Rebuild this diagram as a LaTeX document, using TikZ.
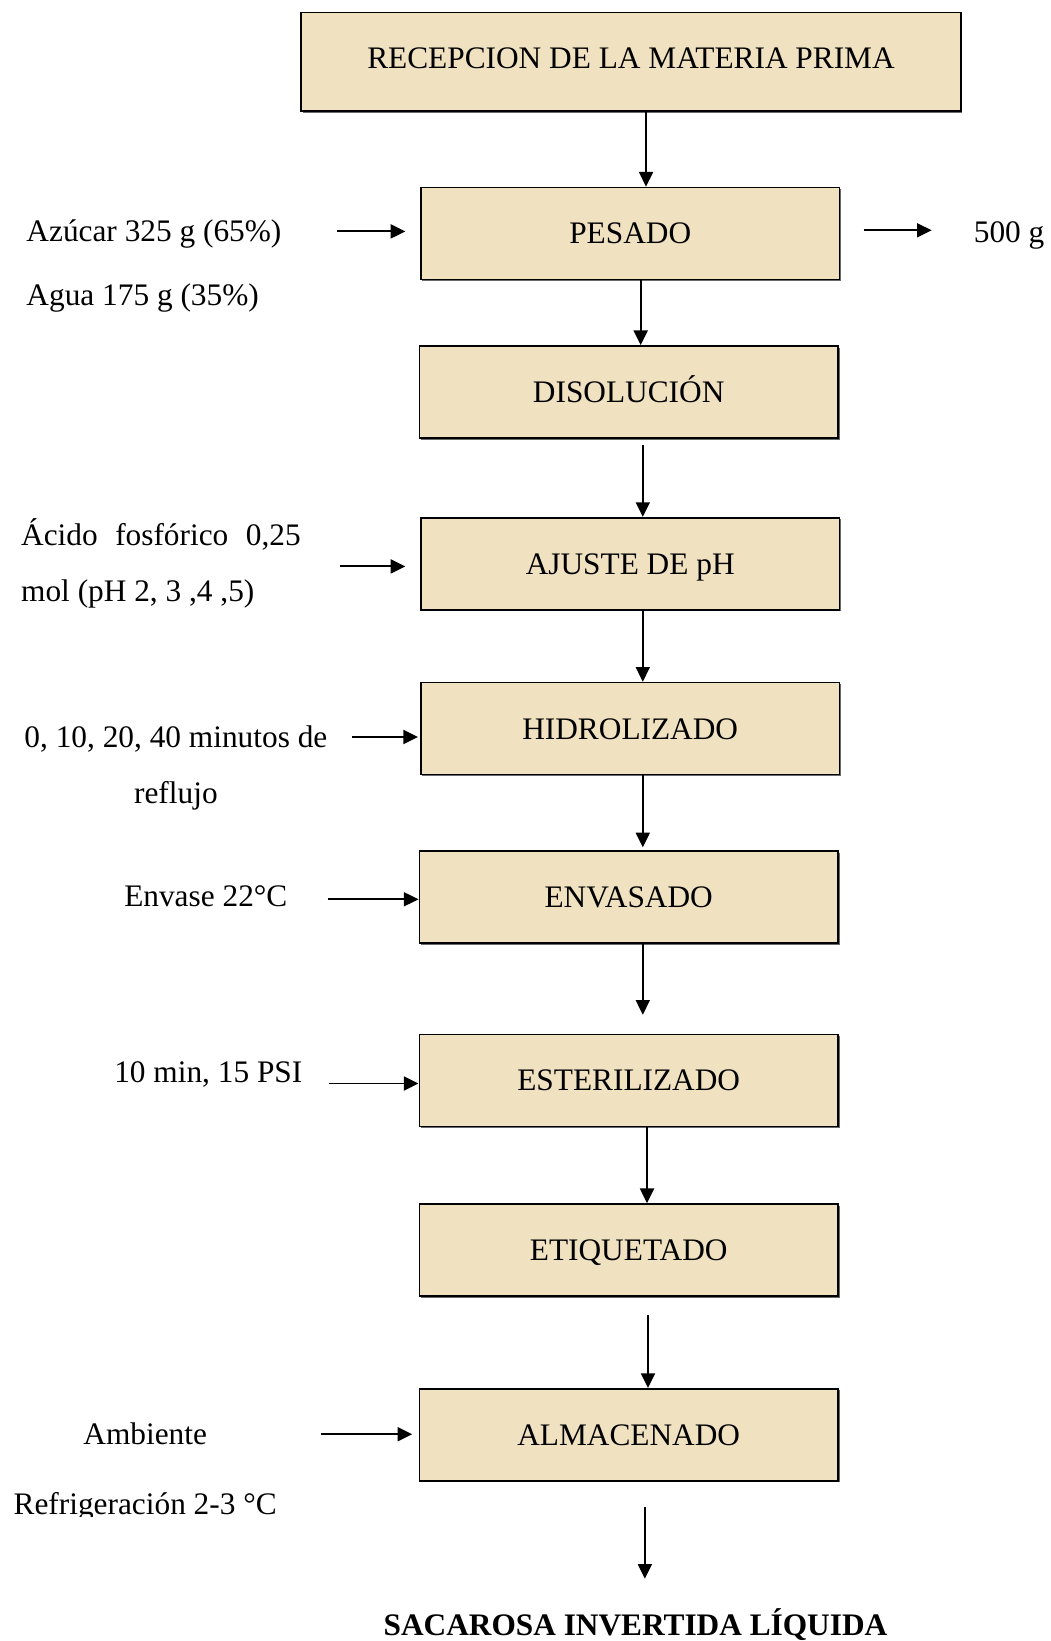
\documentclass[tikz,border=0pt]{standalone}
\usepackage{fontspec}
\setmainfont{Liberation Serif}
\usetikzlibrary{arrows.meta,shadows}
\definecolor{parch}{RGB}{240,226,193}
\definecolor{edgeshade}{RGB}{105,105,105}
\begin{document}
\begin{tikzpicture}[x=0.75pt,y=-0.75pt,
  every node/.style={font=\fontsize{23.5pt}{28pt}\selectfont, inner sep=0pt},
  stage/.style={draw=black, line width=1.3pt, fill=parch,
    minimum width=314pt, minimum height=69pt, text height=20pt, text depth=4.4pt,
    drop shadow={shadow xshift=1.2pt, shadow yshift=-1.2pt, fill=edgeshade, opacity=1}},
  flow/.style={line width=1.4pt, -{Triangle[length=11pt,width=10.5pt]}},
  lbl/.style={text height=20pt, text depth=4.4pt}
]
\useasboundingbox (0,0) rectangle (1050,1641);

% process stages
\node[stage, minimum width=494.6pt, minimum height=73.8pt, text height=16pt, text depth=6.4pt] (top) at (631,61.8) {RECEPCION DE LA MATERIA PRIMA};
\node[stage] (pes) at (630.2,233.5) {PESADO};
\node[stage] (dis) at (628.7,392) {DISOLUCIÓN};
\node[stage] (aju) at (630.2,563.8) {AJUSTE DE pH};
\node[stage] (hid) at (630.2,728.6) {HIDROLIZADO};
\node[stage] (env) at (628.7,897.2) {ENVASADO};
\node[stage] (est) at (628.7,1080.4) {ESTERILIZADO};
\node[stage] (eti) at (628.7,1250) {ETIQUETADO};
\node[stage] (alm) at (628.7,1434.8) {ALMACENADO};
\node[font=\fontsize{23.5pt}{28pt}\selectfont\bfseries, lbl] (prod) at (635.5,1624.8) {SACAROSA INVERTIDA LÍQUIDA};

% side inputs and output
\node[lbl, anchor=west] (azu) at (26.2,231.4) {Azúcar 325 g (65\%)};
\node[lbl, anchor=west] (agua) at (26.2,295.2) {Agua 175 g (35\%)};
\node[lbl, anchor=west] (out) at (973.6,232.4) {500 g};
\node[anchor=west, align=left, font=\fontsize{23.5pt}{41.6pt}\selectfont] (acid) at (20.9,563.5)
  {\makebox[209.7pt][s]{Ácido fosfórico 0,25}\\ mol (pH 2, 3 ,4 ,5)};
\node[align=center, font=\fontsize{23.5pt}{41.6pt}\selectfont] (reflux) at (175.9,767.8)
  {0, 10, 20, 40 minutos de\\ reflujo};
\node[lbl] (temp) at (205.8,896.1) {Envase 22°C};
\node[lbl] (psi) at (208.3,1072) {10 min, 15 PSI};
\begin{scope}
  \clip (0,1380) rectangle (400,1516);
  \node[align=center, font=\fontsize{23.5pt}{52.65pt}\selectfont] (store) at (145.2,1472.3)
    {Ambiente\\ Refrigeración 2-3 °C};
\end{scope}

% arrow positions
\coordinate (v1) at (646,0);
\coordinate (v2) at (640.7,0);
\coordinate (v3) at (642.8,0);
\coordinate (v4) at (647,0);
\coordinate (v5) at (648,0);
\coordinate (v6) at (644.9,0);
\coordinate (sAzu) at (337,231.4);
\coordinate (sOut) at (863.7,230.3);
\coordinate (eOut) at (931.7,230.3);
\coordinate (sAcid) at (340.2,566.4);
\coordinate (sRef) at (351.8,737);
\coordinate (sTemp) at (327.7,899.3);
\coordinate (sPsi) at (328.7,1083.5);
\coordinate (sStore) at (321.4,1434.2);
\coordinate (eProd) at (644.9,1578.7);

% main flow
\draw[flow] (top.south -| v1) -- (pes.north -| v1);
\draw[flow] (pes.south -| v2) -- (dis.north -| v2);
\draw[flow, shorten <=4.7pt] (dis.south -| v3) -- (aju.north -| v3);
\draw[flow] (aju.south -| v3) -- (hid.north -| v3);
\draw[flow, shorten >=2.3pt] (hid.south -| v3) -- (env.north -| v3);
\draw[flow, shorten >=14.1pt] (env.south -| v3) -- (est.north -| v3);
\draw[flow] (est.south -| v4) -- (eti.north -| v4);
\draw[flow, shorten <=13.4pt] (eti.south -| v5) -- (alm.north -| v5);
\draw[flow, shorten <=18.8pt] (alm.south -| v6) -- (eProd);

% side arrows
\draw[flow, shorten >=11pt] (sAzu) -- (sAzu -| pes.west);
\draw[flow] (sOut) -- (eOut);
\draw[flow, shorten >=11pt] (sAcid) -- (sAcid -| aju.west);
\draw[flow, shorten >=1.5pt] (sRef) -- (sRef -| hid.west);
\draw[flow] (sTemp) -- (sTemp -| env.west);
\draw[flow] (sPsi) -- (sPsi -| est.west);
\draw[flow, shorten >=4.7pt] (sStore) -- (sStore -| alm.west);
\end{tikzpicture}
\end{document}
